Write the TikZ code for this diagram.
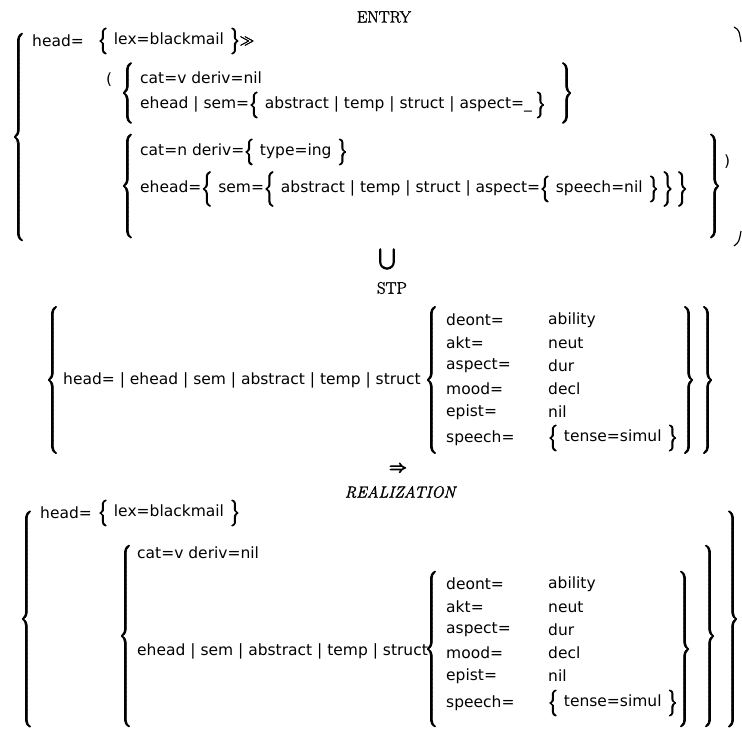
\documentclass[tikz,border=0pt]{standalone}
\usepackage{amsmath}
\usepackage{fontspec}
\newfontfamily\featfont{DejaVu Sans}
\usetikzlibrary{positioning}

% outlined glyphs print heavier
\newcommand{\heavy}[2][0.9]{\special{pdf:literal direct 2 Tr #1 w}#2\special{pdf:literal direct 0 Tr}}
% curly braces of a given height
\newcommand{\lbr}[1]{\heavy{$\left\{\vcenter{\hrule height #1pt width 0pt}\right.$}}
\newcommand{\rbr}[1]{\heavy{$\left.\vcenter{\hrule height #1pt width 0pt}\right\}$}}

\begin{document}
\begin{tikzpicture}[x=1pt, y=-1pt,
    feat/.style={anchor=west, inner sep=0pt,
      font=\featfont\fontsize{15.5}{18}\selectfont},
    heading/.style={inner sep=0pt, font=\fontsize{16.5}{18}\selectfont},
    brc/.style={inner sep=0pt, font=\fontsize{15.5}{18}\selectfont}
  ]
  \useasboundingbox (0,0) rectangle (742,731);

  % ENTRY
  \node[heading] (entry) at (384,17) {\heavy[0.3]{ENTRY}};
  \node[brc] (entryL) at (19,137) {\lbr{206}};
  \node[feat] (ehd) at (32,41) {head=};
  \node[feat] (elex) at (98,41) {\lbr{20} lex=blackmail \rbr{20}\heavy[0.4]{$\gg$}};
  \node[feat] (epar) at (106,80) {(};
  \node[brc] (vL) at (128,93) {\lbr{60}};
  \node[feat] (catv) at (140,78) {cat=v deriv=nil};
  \node[feat] (vsem) at (140,105)
    {ehead | sem=\lbr{20} abstract | temp | struct | aspect=\_\,\rbr{20}};
  \node[brc] (vR) at (566,93) {\rbr{60}};
  \node[brc] (nL) at (128,186) {\lbr{106}};
  \node[feat] (catn) at (140,152) {cat=n deriv=\lbr{20} type=ing \rbr{20}};
  \node[feat] (nsem) at (140,189)
    {ehead=\lbr{38} sem=\lbr{30} abstract | temp | struct | aspect=\lbr{20} speech=nil \rbr{20}\,\rbr{30}\,\rbr{38}};
  \node[brc] (nR) at (714,186) {\rbr{106}};
  \node[feat] (eclose) at (724,162) {)};
  \draw[line width=1.2pt] (734,27) .. controls (739,30) .. (741,42);
  \draw[line width=1.2pt] (741,231) .. controls (739,242) .. (734,246);

  \node[heading, font=\fontsize{22}{22}\selectfont] (union) at (387,259) {\heavy[0.6]{$\bigcup$}};
  \node[heading] (stp) at (392,288) {\heavy[0.3]{STP}};

  % STP
  \node[brc] (stpL) at (53,380) {\lbr{150}};
  \node[feat] (shd) at (63,380) {head= | ehead | sem | abstract | temp | struct};
  \node[brc] (sstrL) at (432,380) {\lbr{146}};
  \foreach \k/\v [count=\i] in {deont=/ability, akt=/neut, aspect=/dur, mood=/decl, epist=/nil} {
    \node[feat] (sk\i) at (446,320+23*\i-23) {\k};
    \node[feat] (sv\i) at (548,320+23*\i-23) {\v};
  }
  \node[feat] (sk6) at (446,438) {speech=};
  \node[feat] (sv6) at (548,438) {\lbr{20} tense=simul \rbr{20}};
  \node[brc] (sstrR) at (688,380) {\rbr{146}};
  \node[brc] (stpR) at (707,380) {\rbr{150}};

  \node[heading, font=\fontsize{19}{19}\selectfont] (implies) at (398,469) {\heavy{$\Rightarrow$}};
  \node[heading, font=\fontsize{16}{18}\itshape] (real) at (400,492) {\heavy[0.3]{REALIZATION}};

  % REALIZATION
  \node[brc] (realL) at (27,619) {\lbr{218}};
  \node[feat] (rhd) at (40,513) {head=};
  \node[feat] (rlex) at (98,513) {\lbr{20} lex=blackmail \rbr{20}};
  \node[brc] (rvL) at (126,636) {\lbr{184}};
  \node[feat] (rcatv) at (137,553) {cat=v deriv=nil};
  \node[feat] (rsem) at (137,651) {ehead | sem | abstract | temp | struct};
  \node[brc] (rstrL) at (432,649) {\lbr{152}};
  \foreach \k/\v [count=\i] in {deont=/ability, akt=/neut, aspect=/dur, mood=/decl, epist=/nil} {
    \node[feat] (rk\i) at (446,584+23*\i-23) {\k};
    \node[feat] (rv\i) at (548,584+23*\i-23) {\v};
  }
  \node[feat] (rk6) at (446,703) {speech=};
  \node[feat] (rv6) at (548,703) {\lbr{20} tense=simul \rbr{20}};
  \node[brc] (rstrR) at (684,649) {\rbr{152}};
  \node[brc] (rvR) at (709,636) {\rbr{184}};
  \node[brc] (realR) at (732,619) {\rbr{218}};
\end{tikzpicture}
\end{document}
